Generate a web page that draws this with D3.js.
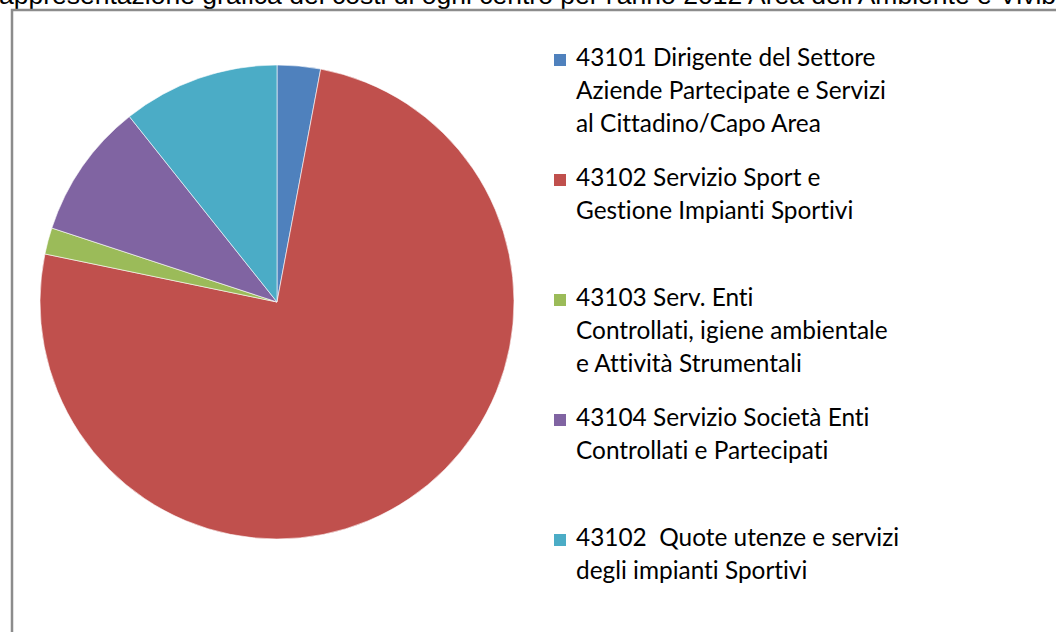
<!DOCTYPE html>
<html>
<head>
<meta charset="utf-8">
<script src="https://cdn.jsdelivr.net/npm/d3@7"></script>
<style>
  body { margin: 0; background: #fff; overflow: hidden; }
  svg { display: block; }
  .item text { white-space: pre; font-variant-ligatures: none; }
</style>
</head>
<body>
<script>
// cost share per centre, 2012 (percent)
var labels = [
  ["43101 Dirigente del Settore", "Aziende Partecipate e Servizi", "al Cittadino/Capo Area"],
  ["43102 Servizio Sport e", "Gestione Impianti Sportivi"],
  ["43103 Serv. Enti", "Controllati, igiene ambientale", "e Attività Strumentali"],
  ["43104 Servizio Società Enti", "Controllati e Partecipati"],
  ["43102  Quote utenze e servizi", "degli impianti Sportivi"]
];
var values = [2.95, 75.3, 1.8, 9.25, 10.7];
var colors = ["#4F81BD", "#C0504D", "#9BBB59", "#8064A2", "#4BACC6"];
var title = "Rappresentazione grafica dei costi di ogni centro per l'anno 2012 Area dell'Ambiente e Vivibilità";

var width = 1056, height = 632;

var svg = d3.select("body").append("svg")
    .attr("width", width)
    .attr("height", height);

// title, cut off at the top like in the source document
var t = svg.append("text")
    .attr("y", 4)
    .style("font-family", "'Liberation Sans', Arial, sans-serif")
    .style("font-size", "26.5px")
    .style("fill", "#000")
    .text(title);
var rWidth = t.node().getSubStringLength(0, 1);
t.attr("x", -rWidth - 1);

// chart frame
svg.append("rect")
    .attr("x", 12)
    .attr("y", 10)
    .attr("width", width + 20)
    .attr("height", height + 20)
    .attr("fill", "none")
    .attr("stroke", "#8c8c8c")
    .attr("stroke-width", 2.5);

var cx = 277, cy = 302, radius = 237;

var pie = d3.pie().sort(null).value(function(d) { return d; });
var arc = d3.arc().innerRadius(0).outerRadius(radius);

var g = svg.append("g")
    .attr("transform", "translate(" + cx + "," + cy + ")");

g.selectAll("path")
    .data(pie(values))
  .enter().append("path")
    .attr("d", arc)
    .attr("fill", function(d, i) { return colors[i]; })
    .attr("stroke", "#fff")
    .attr("stroke-width", 0.6);

// legend
var yPos = d3.scalePoint()
    .domain(d3.range(labels.length))
    .range([66, 546]);

var legend = svg.append("g");
var fontFamily = "Lato, 'Open Sans', sans-serif";

// size the font so the widest line fits the same width as in the source
var probe = legend.append("text")
    .style("font-family", fontFamily)
    .style("font-size", "100px")
    .style("font-variant-ligatures", "none")
    .text("Aziende Partecipate e Servizi");
var fontSize = 100 * 310 / probe.node().getComputedTextLength();
probe.remove();

var item = legend.selectAll(".item")
    .data(labels)
  .enter().append("g")
    .attr("class", "item")
    .attr("transform", function(d, i) { return "translate(0," + yPos(i) + ")"; });

item.append("rect")
    .attr("x", 554)
    .attr("y", -12)
    .attr("width", 12)
    .attr("height", 12)
    .attr("fill", function(d, i) { return colors[i]; });

item.append("text")
    .attr("xml:space", "preserve")
    .style("font-family", fontFamily)
    .style("font-size", fontSize + "px")
    .style("fill", "#000")
    .selectAll("tspan")
    .data(function(d) { return d; })
  .enter().append("tspan")
    .attr("x", 576)
    .attr("y", function(d, i) { return i * 33; })
    .text(function(d) { return d; });
</script>
</body>
</html>
